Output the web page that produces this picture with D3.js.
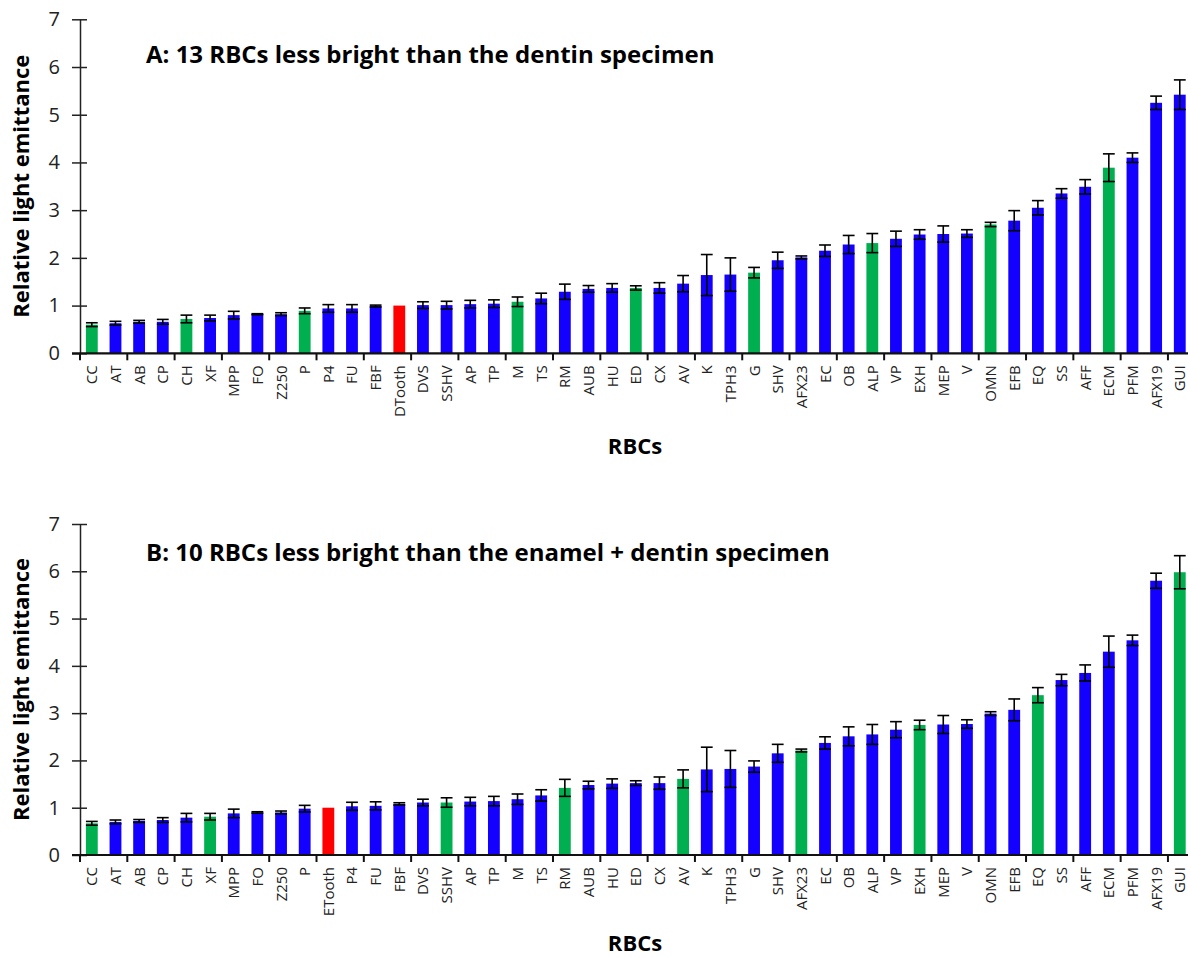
<!DOCTYPE html>
<html>
<head>
<meta charset="utf-8">
<script src="https://cdn.jsdelivr.net/npm/d3@7"></script>
<style>
  html, body { margin: 0; padding: 0; background: #fff; }
  svg { display: block; }
</style>
</head>
<body>
<svg id="chart" width="1188" height="958"></svg>
<script>
// Panel A: composites measured against the dentin specimen (DTooth)
const categoriesA = ["CC","AT","AB","CP","CH","XF","MPP","FO","Z250","P","P4","FU","FBF","DTooth","DVS","SSHV","AP","TP","M","TS","RM","AUB","HU","ED","CX","AV","K","TPH3","G","SHV","AFX23","EC","OB","ALP","VP","EXH","MEP","V","OMN","EFB","EQ","SS","AFF","ECM","PFM","AFX19","GUI"];
const valuesA = [0.60,0.63,0.66,0.66,0.72,0.74,0.80,0.82,0.82,0.89,0.94,0.94,0.99,1.00,1.01,1.01,1.03,1.04,1.08,1.15,1.29,1.35,1.37,1.37,1.37,1.46,1.64,1.65,1.69,1.95,2.01,2.15,2.28,2.31,2.40,2.49,2.50,2.51,2.70,2.78,3.05,3.35,3.49,3.89,4.10,5.25,5.42];
const errorsA = [0.04,0.04,0.03,0.05,0.08,0.06,0.08,0.01,0.03,0.06,0.08,0.08,0.02,0,0.07,0.08,0.08,0.08,0.10,0.11,0.16,0.07,0.09,0.045,0.11,0.17,0.43,0.35,0.11,0.17,0.03,0.12,0.19,0.20,0.16,0.10,0.17,0.08,0.045,0.21,0.15,0.10,0.15,0.29,0.10,0.14,0.31];
const groupsA = ["g","b","b","b","g","b","b","b","b","g","b","b","b","r","b","b","b","b","g","b","b","b","b","g","b","b","b","b","g","b","b","b","b","g","b","b","b","b","g","b","b","b","b","g","b","b","b"];

// Panel B: composites measured against the enamel + dentin specimen (ETooth)
const categoriesB = ["CC","AT","AB","CP","CH","XF","MPP","FO","Z250","P","ETooth","P4","FU","FBF","DVS","SSHV","AP","TP","M","TS","RM","AUB","HU","ED","CX","AV","K","TPH3","G","SHV","AFX23","EC","OB","ALP","VP","EXH","MEP","V","OMN","EFB","EQ","SS","AFF","ECM","PFM","AFX19","GUI"];
const valuesB = [0.67,0.70,0.72,0.74,0.79,0.81,0.88,0.90,0.90,0.98,1.00,1.03,1.04,1.08,1.11,1.11,1.13,1.14,1.18,1.26,1.42,1.48,1.51,1.52,1.52,1.61,1.81,1.82,1.87,2.15,2.21,2.37,2.51,2.55,2.65,2.75,2.76,2.77,2.99,3.07,3.38,3.70,3.85,4.30,4.54,5.80,5.98];
const errorsB = [0.04,0.04,0.03,0.05,0.09,0.07,0.09,0.015,0.03,0.07,0,0.085,0.085,0.025,0.07,0.10,0.09,0.10,0.11,0.12,0.18,0.08,0.10,0.05,0.13,0.19,0.47,0.39,0.12,0.19,0.03,0.13,0.20,0.21,0.17,0.10,0.19,0.09,0.04,0.23,0.16,0.12,0.17,0.33,0.11,0.16,0.35];
const groupsB = ["g","b","b","b","b","g","b","b","b","b","r","b","b","b","b","g","b","b","b","b","g","b","b","b","b","g","b","b","b","b","g","b","b","b","b","g","b","b","b","b","g","b","b","b","b","b","g"];

const yTicks = [0,1,2,3,4,5,6,7];
const colorOf = { b: "#1400FF", g: "#00B050", r: "#FF0000" };

const svg = d3.select("#chart");
const fontReg = "'Open Sans', 'Liberation Sans', sans-serif";

function drawPanel(opts) {
  const { cats, vals, errs, groups, title, titleY, xTitleY, top, bottom, left, right } = opts;
  const g = svg.append("g");

  const x = d3.scaleBand().domain(cats).range([left, right])
    .paddingInner(0.5).paddingOuter(0.25);
  const y = d3.scaleLinear().domain([0, 7]).range([bottom, top]);

  // bars
  g.selectAll("rect.bar").data(cats).join("rect")
    .attr("class", "bar")
    .attr("x", d => x(d))
    .attr("width", x.bandwidth())
    .attr("y", (d, i) => y(vals[i]))
    .attr("height", (d, i) => y(0) - y(vals[i]))
    .attr("fill", (d, i) => colorOf[groups[i]]);

  // error bars
  const eb = g.selectAll("g.err").data(cats.map((c, i) => ({ c, v: vals[i], e: errs[i] })).filter(d => d.e > 0))
    .join("g").attr("class", "err")
    .attr("stroke", "#000").attr("stroke-width", 1.6).attr("fill", "none");
  eb.append("line")
    .attr("x1", d => x(d.c) + x.bandwidth() / 2).attr("x2", d => x(d.c) + x.bandwidth() / 2)
    .attr("y1", d => y(d.v + d.e)).attr("y2", d => y(d.v - d.e));
  eb.append("line")
    .attr("x1", d => x(d.c)).attr("x2", d => x(d.c) + x.bandwidth())
    .attr("y1", d => y(d.v + d.e)).attr("y2", d => y(d.v + d.e));
  eb.append("line")
    .attr("x1", d => x(d.c)).attr("x2", d => x(d.c) + x.bandwidth())
    .attr("y1", d => y(d.v - d.e)).attr("y2", d => y(d.v - d.e));

  // y axis: ticks cross the axis line
  const yAxis = g.append("g").attr("transform", `translate(${left},0)`)
    .call(d3.axisLeft(y).tickValues(yTicks).tickSizeInner(8).tickSizeOuter(0).tickPadding(12).tickFormat(d3.format("d")));
  yAxis.select(".domain").attr("stroke", "#222").attr("stroke-width", 1.5);
  yAxis.selectAll(".tick line").attr("x1", 7).attr("stroke", "#222").attr("stroke-width", 1.5);
  yAxis.selectAll(".tick text")
    .attr("font-family", fontReg).attr("font-size", 20).attr("fill", "#222");

  // x axis baseline and boundary ticks every two categories
  g.append("line")
    .attr("x1", left - 8).attr("x2", right)
    .attr("y1", y(0)).attr("y2", y(0))
    .attr("stroke", "#111").attr("stroke-width", 2.2);
  const bounds = d3.range(0, cats.length + 1, 2).map(i => x.range()[0] + i * x.step());
  g.selectAll("line.xt").data(bounds).join("line")
    .attr("class", "xt")
    .attr("x1", d => d).attr("x2", d => d)
    .attr("y1", y(0)).attr("y2", y(0) + 7)
    .attr("stroke", "#111").attr("stroke-width", 2);

  // category labels, vertical
  g.selectAll("text.cat").data(cats).join("text")
    .attr("class", "cat")
    .attr("transform", d => `translate(${x(d) + x.bandwidth() / 2 + 5.5},${y(0) + 12}) rotate(-90)`)
    .attr("text-anchor", "end")
    .attr("font-family", fontReg).attr("font-size", 15).attr("fill", "#222")
    .text(d => d);

  // panel title
  g.append("text")
    .attr("x", 146).attr("y", titleY)
    .attr("font-family", fontReg).attr("font-weight", "bold").attr("font-size", 24)
    .attr("fill", "#000")
    .text(title);

  // axis titles
  g.append("text")
    .attr("transform", `translate(29,${(top + bottom) / 2}) rotate(-90)`)
    .attr("text-anchor", "middle")
    .attr("font-family", fontReg).attr("font-weight", "bold").attr("font-size", 22)
    .attr("fill", "#000")
    .text("Relative light emittance");

  g.append("text")
    .attr("x", 635).attr("y", xTitleY)
    .attr("text-anchor", "middle")
    .attr("font-family", fontReg).attr("font-weight", "bold").attr("font-size", 22)
    .attr("fill", "#000")
    .text("RBCs");
}

drawPanel({
  cats: categoriesA, vals: valuesA, errs: errorsA, groups: groupsA,
  title: "A: 13 RBCs less bright than the dentin specimen",
  titleY: 63, xTitleY: 454,
  top: 19.3, bottom: 353.3, left: 80, right: 1191.6
});
drawPanel({
  cats: categoriesB, vals: valuesB, errs: errorsB, groups: groupsB,
  title: "B: 10 RBCs less bright than the enamel + dentin specimen",
  titleY: 561, xTitleY: 951,
  top: 524, bottom: 855, left: 80, right: 1191.6
});
</script>
</body>
</html>
